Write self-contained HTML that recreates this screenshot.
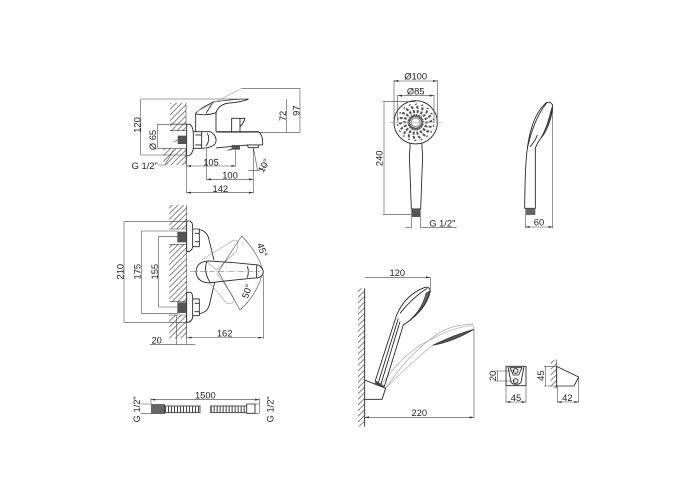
<!DOCTYPE html>
<html><head><meta charset="utf-8"><style>
html,body{margin:0;padding:0;background:#fff}
svg{display:block}
text{font-family:"Liberation Sans",sans-serif;fill:#222}
.z{fill:none;stroke:#222;stroke-width:2.6;stroke-linejoin:round}
.d{fill:none;stroke:#444;stroke-width:1.7}
.g{fill:none;stroke:#aaa;stroke-width:2}
.t{font-size:28px;text-anchor:middle}
</style></head><body>
<svg width="700" height="500" viewBox="0 0 700 500" xmlns="http://www.w3.org/2000/svg">
<defs>
<pattern id="h" width="17" height="17" patternUnits="userSpaceOnUse"><path d="M-2 19L19 -2M-2 2L2 -2M15 19L19 15" stroke="#555" stroke-width="2.2" fill="none"/></pattern>
<marker id="a" markerWidth="14" markerHeight="8" refX="13" refY="4" orient="auto-start-reverse" markerUnits="userSpaceOnUse"><path d="M0 1L14 4L0 7Z" fill="#333"/></marker>
<path id="sp" d="M137 156Q150 135 137 116" fill="none" stroke="#555" stroke-width="6" stroke-dasharray="9 4"/>
</defs>

<!-- side view mixer -->
<g transform="translate(120,80) scale(.3333)">
<rect x="150" y="68" width="48" height="84" fill="url(#h)"/>
<rect x="130" y="205" width="68" height="50" fill="url(#h)"/>
<path class="d" d="M198 68V132M198 205V255M150 132H200M150 152H200"/>
<path class="z" d="M200 133H210Q220 140 220 165V205Q216 228 200 228Z"/>
<path class="z" d="M220 155H245V205H220M226 165H245M226 195H245"/>
<path class="z" d="M245 155H270Q290 165 288 185Q284 203 245 205"/>
<path class="z" d="M262 160Q272 180 258 198"/>
<path class="z" d="M288 155H415Q430 165 428 195H385L288 204"/>
<path class="z" d="M227 155V100Q240 85 280 66Q330 58 385 57Q370 66 320 70Q292 78 288 100V155"/>
<path class="z" d="M227 102Q260 108 288 98M258 100L278 68"/>
<path class="z" d="M335 155V115H375Q368 135 360 140V155M360 115V140"/>
<rect x="173" y="167" width="27" height="25" fill="#555"/>
<rect x="335" y="195" width="25" height="14" fill="#555"/>
<path d="M318 212L335 206V210Z" fill="#333"/>
<path class="z" d="M382 195L385 203H415V195"/>
<path class="d" d="M62 57V225M62 57H380M62 225H200M112 133V205M112 133H200M112 205H200"/>
<path class="d" d="M540 25V157M365 25H540M290 157H540M500 57V157"/>
<path class="g" d="M365 25L230 95"/>
<path class="d" d="M200 228V340M260 205V300M347 205V258M400 203V340M400 203L413 272"/>
<path class="d" d="M200 258H347" marker-start="url(#a)" marker-end="url(#a)"/>
<path class="d" d="M260 298H400" marker-start="url(#a)" marker-end="url(#a)"/>
<path class="d" d="M200 338H400" marker-start="url(#a)" marker-end="url(#a)"/>
<path class="d" d="M385 272H412M413 272Q432 268 440 250"/>
<path class="d" d="M115 255H135L160 210M160 185L175 180"/>
<text class="t" transform="translate(62,135) rotate(-90)">120</text>
<text class="t" transform="translate(108,180) rotate(-90)">Ø 65</text>
<text class="t" transform="translate(498,108) rotate(-90)">72</text>
<text class="t" transform="translate(538,92) rotate(-90)">97</text>
<text class="t" x="273" y="256">105</text>
<text class="t" x="330" y="295">100</text>
<text class="t" x="301" y="336">142</text>
<text class="t" transform="translate(440,262) rotate(-60)">10°</text>
<text x="35" y="267" style="font-size:28px">G 1/2"</text>
</g>

<!-- front view mixer -->
<g transform="translate(110,205) scale(.3333)">
<rect x="178" y="0" width="52" height="72" fill="url(#h)"/>
<rect x="178" y="118" width="52" height="172" fill="url(#h)"/>
<rect x="178" y="330" width="52" height="70" fill="url(#h)"/>
<path class="d" d="M230 0V400M178 72H230M178 118H230M178 290H230M178 330H230"/>
<path class="z" d="M230 48H240Q248 52 248 65V125Q246 140 230 140Z"/>
<path class="z" d="M230 262H240Q248 262 248 280V335Q246 352 230 352Z"/>
<path class="z" d="M248 72H268V125H248M254 85H268M254 110H268"/>
<path class="z" d="M248 282H268V332H248M254 295H268M254 320H268"/>
<path class="z" d="M268 74Q290 78 296 100L312 165M268 326Q292 322 298 300L314 232"/>
<path class="g" d="M275 165L372 105Q392 105 378 140L320 195L290 170M300 235L350 295Q375 300 370 275L320 205"/>
<path class="d" d="M395 93Q445 145 458 195M390 315Q440 270 458 205M395 93L325 200L390 315"/>
<path class="z" d="M258 200Q260 170 295 168Q370 172 445 180Q460 190 460 202Q458 215 445 218Q370 225 295 234Q260 230 258 200Z"/>
<path class="z" d="M290 170Q280 200 300 232M412 184Q418 200 412 218M440 180V218"/>
<path d="M240 200H450" fill="none" stroke="#999" stroke-width="2.4" stroke-dasharray="16 5 3 5"/>
<rect x="202" y="80" width="27" height="32" fill="#555"/>
<rect x="202" y="292" width="27" height="32" fill="#555"/>
<path class="d" d="M42 50V352M42 50H230M42 352H230M94 78V325M94 78H205M94 325H205M145 95V306M145 95H205M145 306H205"/>
<path class="d" d="M200 330V420M230 352V420M460 210V402"/>
<path class="d" d="M120 418H256"/>
<path class="d" d="M232 398H458" marker-start="url(#a)" marker-end="url(#a)"/>
<text class="t" transform="translate(40,200) rotate(-90)">210</text>
<text class="t" transform="translate(92,200) rotate(-90)">175</text>
<text class="t" transform="translate(144,200) rotate(-90)">155</text>
<text class="t" x="140" y="416">20</text>
<text class="t" x="344" y="394">162</text>
<text class="t" transform="translate(448,138) rotate(70)">45°</text>
<text class="t" transform="translate(420,262) rotate(-70)">50°</text>
</g>

<!-- hose -->
<g transform="translate(120,380) scale(.3333)">
<path class="z" d="M380 72H405V100H380Z"/>
<rect x="93" y="72" width="42" height="30" fill="#666"/>
<rect x="135" y="78" width="105" height="20" fill="#fff" stroke="#333" stroke-width="2.5"/>
<path d="M135 88H240" stroke="#444" stroke-width="18" stroke-dasharray="3 6" fill="none"/>
<rect x="272" y="78" width="108" height="20" fill="#fff" stroke="#333" stroke-width="2.5"/>
<path d="M272 88H380" stroke="#444" stroke-width="18" stroke-dasharray="3 6" fill="none"/>
<path class="d" d="M93 55V72M418 55V100M405 72H418M405 100H418M62 72H93M62 100H93"/>
<path class="d" d="M93 59H418" marker-start="url(#a)" marker-end="url(#a)"/>
<text class="t" x="256" y="55">1500</text>
<text class="t" transform="translate(60,88) rotate(-90)">G 1/2"</text>
<text class="t" transform="translate(461,88) rotate(-90)">G 1/2"</text>
</g>

<!-- hand shower front -->
<g transform="translate(370,65) scale(.3333)">
<circle class="z" cx="137" cy="172" r="65"/>
<use href="#sp"/>
<use href="#sp" transform="rotate(20 137 172)"/>
<use href="#sp" transform="rotate(40 137 172)"/>
<use href="#sp" transform="rotate(60 137 172)"/>
<use href="#sp" transform="rotate(80 137 172)"/>
<use href="#sp" transform="rotate(100 137 172)"/>
<use href="#sp" transform="rotate(120 137 172)"/>
<use href="#sp" transform="rotate(140 137 172)"/>
<use href="#sp" transform="rotate(160 137 172)"/>
<use href="#sp" transform="rotate(180 137 172)"/>
<use href="#sp" transform="rotate(200 137 172)"/>
<use href="#sp" transform="rotate(220 137 172)"/>
<use href="#sp" transform="rotate(240 137 172)"/>
<use href="#sp" transform="rotate(260 137 172)"/>
<use href="#sp" transform="rotate(280 137 172)"/>
<use href="#sp" transform="rotate(300 137 172)"/>
<use href="#sp" transform="rotate(320 137 172)"/>
<use href="#sp" transform="rotate(340 137 172)"/>
<circle cx="137" cy="172" r="13" fill="#fff" stroke="#666" stroke-width="2"/>
<path class="z" d="M120 235Q121 245 118 270L124 432H152L158 270Q155 245 156 235"/>
<rect x="124" y="432" width="28" height="24" fill="#555"/>
<path class="g" d="M60 172H215"/>
<path class="d" d="M72 45V172M202 45V172M83 90V172M192 90V172"/>
<path class="d" d="M72 48H202" marker-start="url(#a)" marker-end="url(#a)"/>
<path class="d" d="M83 92H192" marker-start="url(#a)" marker-end="url(#a)"/>
<path class="d" d="M38 110H137M38 448H124M42 110V448M124 456V490M152 456V490M105 487H124M152 487H260"/>
<text class="t" x="137" y="44">Ø100</text>
<text class="t" x="137" y="88">Ø85</text>
<text class="t" transform="translate(38,280) rotate(-90)">240</text>
<text class="t" x="217" y="484">G 1/2"</text>
</g>

<!-- hand shower side -->
<g transform="translate(510,85) scale(.3333)">
<path class="z" d="M44 370Q45 240 52 190Q65 90 110 52Q125 50 128 62Q125 110 100 150Q80 175 76 190V370Z"/>
<path class="z" d="M52 190Q72 100 110 54M60 185Q75 170 82 150"/>
<path d="M128 60Q120 115 92 160Q110 130 122 80Z" fill="#666" stroke="#333" stroke-width="2"/>
<rect x="46" y="370" width="30" height="20" fill="#666"/>
<path class="d" d="M46 390V430M128 60V430"/>
<path class="d" d="M46 426H128" marker-start="url(#a)" marker-end="url(#a)"/>
<text class="t" x="87" y="422">60</text>
</g>

<!-- wall shower -->
<g transform="translate(350,260) scale(.3333)">
<path d="M44 85V500" stroke="#222" stroke-width="2.6" fill="none"/>
<rect x="24" y="85" width="20" height="415" fill="url(#h)"/>
<path class="g" d="M107 385Q170 290 245 235Q290 195 368 192L372 208Q310 225 248 256Q180 310 107 385M95 372Q170 270 240 240Q300 205 365 196"/>
<path d="M372 208Q310 225 248 256Q310 245 372 208Z" fill="#555" stroke="#333" stroke-width="2"/>
<path class="z" d="M44 360L107 385L96 418H44"/>
<path class="z" d="M75 365L140 165Q165 105 225 82Q240 80 241 92Q230 150 160 195L103 380"/>
<path class="z" d="M85 368L145 175M93 372L150 185M150 160Q190 110 232 85"/>
<path d="M240 92Q225 150 165 192Q215 155 228 100Z" fill="#666" stroke="#333" stroke-width="2"/>
<path d="M74 370L103 385V378L78 362Z" fill="#444"/>
<path class="d" d="M241 52V90M372 208V472"/>
<path class="d" d="M44 52H241" marker-end="url(#a)"/>
<path class="d" d="M44 472H372" marker-start="url(#a)" marker-end="url(#a)"/>
<text class="t" x="142" y="48">120</text>
<text class="t" x="208" y="468">220</text>
</g>

<!-- holder -->
<g transform="translate(480,355) scale(.3333)">
<rect class="z" x="78" y="34" width="60" height="58"/>
<path class="z" d="M84 36L92 76Q92 88 108 88Q124 88 124 76L132 36M90 38H126L116 60H100Z"/>
<circle class="z" cx="107" cy="48" r="7"/>
<circle class="z" cx="107" cy="78" r="7"/>
<path class="d" d="M44 48H107M44 78H107M52 48V78M78 92V142M138 92V142"/>
<path class="d" d="M78 141H138" marker-start="url(#a)" marker-end="url(#a)"/>
<text class="t" transform="translate(48,63) rotate(-90)">20</text>
<text class="t" x="108" y="138">45</text>
<rect x="212" y="14" width="18" height="86" fill="url(#h)"/>
<path class="d" d="M230 14V100"/>
<path class="z" d="M230 34L296 66L282 93H230Z"/>
<path class="d" d="M192 34H230M192 93H230M196 34V93M232 93V142M296 70V142"/>
<path class="d" d="M232 141H296" marker-start="url(#a)" marker-end="url(#a)"/>
<text class="t" transform="translate(192,62) rotate(-90)">45</text>
<text class="t" x="262" y="138">42</text>
</g>
</svg>
</body></html>
